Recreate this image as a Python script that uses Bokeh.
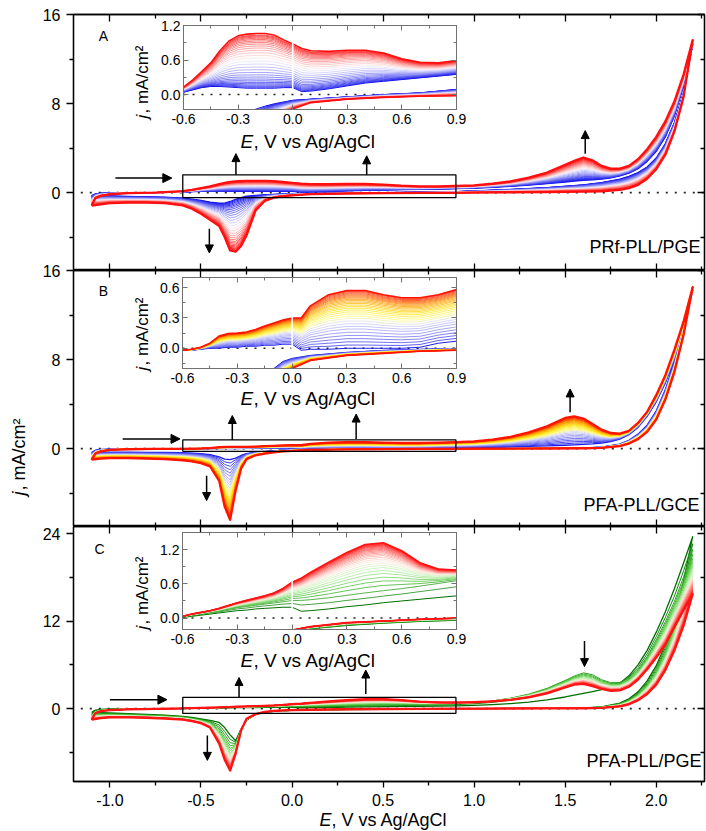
import numpy as np
from math import pi
from bokeh.plotting import figure
from bokeh.models import (GridBox, LinearAxis, FixedTicker, PrintfTickFormatter,
                          CustomJSTickFormatter, Label, Arrow, NormalHead)
from bokeh.embed import file_html
from bokeh.resources import INLINE

FONT = "Liberation Sans"

# ---------------- data ----------------
# potential grid of the anodic (forward) and cathodic (reverse) sweeps, V
FWD_E = [-1.1, -1.08, -1.05, -1.0, -0.9, -0.75, -0.6, -0.55, -0.5, -0.45, -0.4, -0.35,
         -0.3, -0.25, -0.2, -0.15, -0.1, -0.05, 0.0, 0.05, 0.1, 0.2, 0.3, 0.4, 0.5, 0.6,
         0.7, 0.8, 0.9, 1.0, 1.1, 1.2, 1.3, 1.4, 1.5, 1.55, 1.6, 1.65, 1.7, 1.75, 1.8,
         1.85, 1.9, 1.95, 2.0, 2.05, 2.1, 2.15, 2.2]
REV_E = [2.2, 2.15, 2.1, 2.05, 2.0, 1.95, 1.9, 1.85, 1.8, 1.7, 1.6, 1.4, 1.2, 1.0, 0.9,
         0.7, 0.5, 0.3, 0.1, 0.0, -0.05, -0.1, -0.15, -0.2, -0.25, -0.28, -0.31, -0.34,
         -0.37, -0.4, -0.45, -0.5, -0.55, -0.6, -0.7, -0.8, -0.9, -1.0, -1.05, -1.1]

# Panel A  PRf-PLL/PGE  (mA/cm2)
A_FWD_FIRST = [-0.27, -0.12, -0.06, -0.03, -0.01, 0.0, 0.04, 0.08, 0.12, 0.14, 0.14, 0.13,
               0.12, 0.11, 0.11, 0.11, 0.11, 0.12, 0.12, 0.05, 0.06, 0.1, 0.15, 0.2, 0.23,
               0.26, 0.29, 0.32, 0.35, 0.4, 0.48, 0.57, 0.68, 0.8, 0.95, 1.03, 1.1, 1.15,
               1.22, 1.32, 1.5, 1.75, 2.15, 2.8, 3.7, 5.0, 6.9, 9.6, 13.3]
A_FWD_LAST = [-1.17, -0.5, -0.3, -0.15, -0.05, 0.0, 0.13, 0.25, 0.4, 0.55, 0.76, 0.93,
              1.02, 1.05, 1.06, 1.06, 1.03, 0.95, 0.88, 0.8, 0.76, 0.75, 0.77, 0.77, 0.72,
              0.62, 0.56, 0.55, 0.59, 0.65, 0.8, 1.0, 1.35, 1.8, 2.5, 2.85, 3.15, 2.9, 2.4,
              2.15, 2.15, 2.4, 3.0, 3.9, 5.0, 6.4, 8.2, 10.6, 13.7]
A_REV_FIRST = [13.3, 9.0, 6.3, 4.4, 3.1, 2.3, 1.8, 1.45, 1.2, 0.9, 0.7, 0.45, 0.28, 0.15,
               0.09, 0.03, 0.0, -0.04, -0.08, -0.1, -0.13, -0.16, -0.2, -0.25, -0.32,
               -0.45, -0.6, -0.8, -0.95, -0.95, -0.85, -0.7, -0.6, -0.5, -0.42, -0.38,
               -0.35, -0.3, -0.28, -0.27]
A_REV_LAST = [13.7, 8.6, 5.5, 3.4, 2.1, 1.25, 0.7, 0.4, 0.25, 0.12, 0.08, 0.05, 0.03, 0.0,
              -0.02, -0.03, -0.05, -0.08, -0.14, -0.25, -0.33, -0.45, -0.75, -1.6, -3.85,
              -4.8, -5.3, -5.2, -4.0, -3.0, -2.45, -1.9, -1.45, -1.15, -0.95, -0.9, -0.9,
              -0.95, -1.05, -1.17]
A_CYCLE_PEAK = [-1.0, -1.08, -1.16, -1.25, -1.35, -1.46, -1.58, -1.72, -1.88, -2.05,
                -2.24, -2.45, -2.67, -2.9, -3.13, -3.36, -3.58, -3.79, -3.98, -4.16,
                -4.32, -4.47, -4.6, -4.72, -4.83, -4.93, -5.02, -5.1, -5.17, -5.3]

# Panel B  PFA-PLL/GCE
B_FWD_FIRST = [-0.33, -0.15, -0.08, -0.05, -0.03, -0.02, -0.02, -0.02, -0.01, 0.0, 0.0,
               0.01, 0.01, 0.02, 0.02, 0.03, 0.03, 0.04, 0.04, -0.02, -0.01, -0.01, 0.0,
               0.0, 0.0, 0.0, 0.01, 0.05, 0.07, 0.09, 0.12, 0.15, 0.19, 0.24, 0.3, 0.34,
               0.38, 0.43, 0.5, 0.62, 0.85, 1.25, 1.9, 2.9, 4.2, 5.9, 8.0, 10.8, 14.2]
B_FWD_LAST = [-1.0, -0.45, -0.25, -0.12, -0.06, -0.03, -0.02, -0.01, 0.01, 0.05, 0.12,
              0.145, 0.15, 0.16, 0.185, 0.22, 0.25, 0.28, 0.3, 0.3, 0.42, 0.53, 0.57, 0.57,
              0.53, 0.5, 0.5, 0.53, 0.58, 0.65, 0.8, 1.05, 1.45, 2.0, 2.75, 2.9, 2.7, 2.2,
              1.7, 1.4, 1.35, 1.6, 2.3, 3.3, 4.8, 6.6, 8.9, 11.4, 14.5]
B_REV_FIRST = [14.2, 10.9, 7.8, 5.3, 3.4, 2.1, 1.3, 0.75, 0.4, 0.14, 0.06, 0.03, 0.02,
               0.01, 0.0, -0.01, -0.02, -0.04, -0.07, -0.1, -0.13, -0.2, -0.26, -0.32,
               -0.45, -0.62, -0.85, -1.0, -0.95, -0.75, -0.55, -0.45, -0.4, -0.37, -0.35,
               -0.34, -0.33, -0.33, -0.33, -0.33]
B_REV_LAST = [14.5, 10.2, 6.9, 4.4, 2.6, 1.5, 0.85, 0.45, 0.22, 0.07, 0.03, 0.01, 0.0,
              -0.01, -0.02, -0.03, -0.05, -0.07, -0.12, -0.2, -0.25, -0.33, -0.45, -0.6,
              -0.95, -1.8, -3.8, -6.4, -5.2, -2.9, -1.6, -1.3, -1.15, -1.05, -0.95, -0.9,
              -0.85, -0.85, -0.9, -1.0]
B_CYCLE_PEAK = [-1.0, -1.3, -1.6, -1.9, -2.2, -2.5, -2.8, -3.05, -3.3, -3.55, -3.8, -4.0,
                -4.2, -4.4, -4.58, -4.75, -4.9, -5.05, -5.2, -5.33, -5.46, -5.58, -5.7,
                -5.8, -5.9, -6.0, -6.1, -6.2, -6.3, -6.4]

# Panel C  PFA-PLL/PGE
C_FWD_FIRST = [-0.5, -0.2, -0.1, -0.05, -0.02, 0.0, 0.01, 0.03, 0.05, 0.07, 0.09, 0.11,
               0.13, 0.14, 0.16, 0.17, 0.18, 0.19, 0.19, 0.12, 0.13, 0.16, 0.2, 0.23, 0.27,
               0.3, 0.33, 0.36, 0.39, 0.45, 0.55, 0.7, 0.9, 1.2, 1.6, 1.85, 2.1, 2.35, 2.6,
               2.95, 3.5, 4.5, 6.0, 8.0, 10.5, 13.3, 16.5, 20.0, 23.6]
C_FWD_MID = [-0.8, -0.35, -0.2, -0.1, -0.05, -0.01, 0.02, 0.05, 0.07, 0.1, 0.12, 0.15,
             0.18, 0.2, 0.22, 0.24, 0.26, 0.28, 0.3, 0.3, 0.31, 0.34, 0.38, 0.42, 0.46, 0.5,
             0.55, 0.6, 0.65, 0.8, 1.05, 1.45, 2.0, 2.8, 3.9, 4.5, 4.95, 4.7, 4.0, 3.6,
             3.6, 4.2, 5.4, 7.2, 9.5, 12.0, 14.8, 18.2, 22.0]
C_FWD_LAST = [-1.5, -0.6, -0.35, -0.2, -0.1, -0.04, 0.03, 0.07, 0.1, 0.13, 0.17, 0.22,
              0.27, 0.31, 0.35, 0.39, 0.44, 0.52, 0.63, 0.7, 0.8, 0.98, 1.15, 1.29, 1.32,
              1.18, 0.97, 0.86, 0.84, 0.88, 1.0, 1.2, 1.55, 2.1, 2.9, 3.3, 3.4, 3.1, 2.7,
              2.45, 2.5, 3.0, 4.0, 5.4, 7.0, 8.8, 11.2, 13.5, 15.7]
C_REV_FIRST = [23.6, 17.5, 12.6, 8.8, 5.9, 3.8, 2.3, 1.35, 0.75, 0.25, 0.1, 0.05, 0.03,
               0.0, -0.04, -0.06, -0.09, -0.13, -0.19, -0.25, -0.3, -0.38, -0.5, -0.8,
               -1.6, -2.8, -4.4, -3.6, -2.6, -1.9, -1.6, -1.4, -1.2, -1.05, -0.9, -0.8,
               -0.7, -0.6, -0.55, -0.5]
C_REV_LAST = [15.7, 11.4, 8.0, 5.3, 3.3, 2.0, 1.15, 0.6, 0.3, 0.1, 0.05, 0.03, 0.02, 0.01,
              0.0, -0.02, -0.05, -0.08, -0.15, -0.21, -0.25, -0.32, -0.45, -0.75, -1.4,
              -3.0, -6.2, -8.5, -7.0, -4.8, -2.6, -2.0, -1.7, -1.5, -1.35, -1.25, -1.2,
              -1.2, -1.3, -1.5]
C_CYCLE_PEAK = [-4.4, -4.9, -5.3, -5.65, -5.95, -6.2, -6.45, -6.65, -6.85, -7.0, -7.15,
                -7.3, -7.42, -7.54, -7.65, -7.75, -7.84, -7.92, -8.0, -8.07, -8.13,
                -8.19, -8.25, -8.3, -8.34, -8.38, -8.42, -8.45, -8.48, -8.5]

# tick values
MAIN_X_TICKS = [-1.0, -0.5, 0.0, 0.5, 1.0, 1.5, 2.0]
MAIN_X_MINOR = [-0.75, -0.25, 0.25, 0.75, 1.25, 1.75, 2.25]
AB_Y_TICKS = [0, 8, 16]
AB_Y_MINOR = [-4, 4, 12]
C_Y_TICKS = [0, 12, 24]
C_Y_MINOR = [-6, 6, 18]
INSET_X_TICKS = [-0.6, -0.3, 0.0, 0.3, 0.6, 0.9]
INSET_X_MINOR = [-0.45, -0.15, 0.15, 0.45, 0.75]
IA_Y_TICKS, IA_Y_MINOR = [0.0, 0.6, 1.2], [0.3, 0.9]
IB_Y_TICKS, IB_Y_MINOR = [0.0, 0.3, 0.6], [-0.15, 0.15, 0.45]
IC_Y_TICKS, IC_Y_MINOR = [0.0, 0.6, 1.2], [0.3, 0.9]

# annotation positions (data units)
A_BOX = [-0.6, 0.9, -0.45, 1.6]
B_BOX = [-0.6, 0.9, -0.25, 0.78]
C_BOX = [-0.6, 0.9, -0.65, 1.55]
A_ARROWS = [(-0.97, 1.3, -0.66, 1.3), (-0.308, 1.6, -0.308, 3.5), (0.41, 1.6, 0.41, 3.3),
            (-0.454, -3.24, -0.454, -5.42), (1.61, 3.48, 1.61, 5.57)]
B_ARROWS = [(-0.93, 0.87, -0.615, 0.87), (-0.328, 0.78, -0.328, 2.97), (0.352, 0.87, 0.352, 3.1),
            (-0.469, -2.43, -0.469, -4.67), (1.527, 3.27, 1.527, 5.36)]
C_ARROWS = [(-1.0, 1.23, -0.687, 1.23), (-0.291, 1.55, -0.291, 4.27), (0.405, 2.0, 0.405, 5.3),
            (-0.465, -3.68, -0.465, -7.1), (1.606, 9.27, 1.606, 5.77)]
ZERO_MAIN = [-1.16, 2.265]
ZERO_INSET = [-0.6, 0.9]
A_GAP = [0.04, 0.9]
B_GAP = [-0.04, 0.32]
C_GAP = [0.12, 0.66]

# ---------------- geometry (page px) ----------------
MX = (-1.2, 2.265)
GEOM_A = (MX, (73, 704), (-7, 16), (14, 270))
GEOM_B = (MX, (73, 704), (-7, 16), (270, 526))
GEOM_C = (MX, (73, 704), (-10, 25), (526, 781))
GEOM_IA = ((-0.6, 0.9), (183, 456), (-0.26, 1.2), (25, 109))
GEOM_IB = ((-0.6, 0.9), (182, 456), (-0.2, 0.7), (277, 368))
GEOM_IC = ((-0.6, 0.9), (182, 456), (-0.2, 1.5), (532, 629))
INSET_TOP = 10

A_STOPS = [(0.0, (20, 20, 235)), (0.5, (230, 230, 252)), (0.56, (255, 228, 228)), (1.0, (255, 15, 15))]
B_STOPS = [(0.0, (30, 30, 235)), (0.45, (215, 215, 250)), (0.55, (255, 252, 130)),
           (0.7, (255, 225, 20)), (0.85, (255, 150, 0)), (1.0, (255, 20, 0))]
C_STOPS = [(0.0, (0, 110, 0)), (0.35, (70, 190, 50)), (0.6, (200, 245, 185)),
           (0.72, (255, 230, 220)), (1.0, (255, 20, 20))]


def cmap(stops, f):
    for i in range(len(stops) - 1):
        t0, c0 = stops[i]
        t1, c1 = stops[i + 1]
        if f <= t1 or i == len(stops) - 2:
            u = min(max((f - t0) / (t1 - t0), 0.0), 1.0)
            return "#%02x%02x%02x" % tuple(int(round(c0[j] + (c1[j] - c0[j]) * u)) for j in range(3))


def blend(ts, arrays, t):
    arrs = [np.asarray(a, dtype=float) for a in arrays]
    for i in range(len(ts) - 1):
        if t <= ts[i + 1] or i == len(ts) - 2:
            u = (t - ts[i]) / (ts[i + 1] - ts[i])
            return arrs[i] * (1 - u) + arrs[i + 1] * u


def cycles(peaks, fwd_ts, fwd_arrs, rev_ts, rev_arrs, stops):
    p0, p1 = peaks[0], peaks[-1]
    xs, ys, cols = [], [], []
    for pk in peaks:
        t = (pk - p0) / (p1 - p0)
        f = blend(fwd_ts, fwd_arrs, t)
        r = blend(rev_ts, rev_arrs, t)
        xs.append(list(FWD_E) + list(REV_E))
        ys.append(list(f) + list(r))
        cols.append(cmap(stops, t))
    return xs, ys, cols


def to_data(geom, px, py):
    xr, fx, yr, fy = geom
    x = xr[0] + (px - fx[0]) * (xr[1] - xr[0]) / (fx[1] - fx[0])
    y = yr[1] - (py - fy[0]) * (yr[1] - yr[0]) / (fy[1] - fy[0])
    return x, y


def text(p, geom, px, py, s, size, align="left", angle=0.0, style="normal"):
    x, y = to_data(geom, px, py)
    p.add_layout(Label(x=x, y=y, text=s, text_font=FONT, text_font_size=f"{size}px",
                       text_align=align, text_baseline="middle", angle=angle,
                       text_font_style=style, text_color="black"))


def no_align(p):
    try:
        p.frame_align = False
    except Exception:
        pass


def axis(p, side, ticks, minor, fmt, tin, tout, mtin, mtout, labels, size, color, lw, standoff=5):
    if labels:
        formatter = PrintfTickFormatter(format=fmt)
    else:
        formatter = CustomJSTickFormatter(code="return '';")
    ax = LinearAxis(ticker=FixedTicker(ticks=ticks, minor_ticks=minor), formatter=formatter)
    ax.major_tick_in, ax.major_tick_out = tin, tout
    ax.minor_tick_in, ax.minor_tick_out = mtin, mtout
    for a in ("axis_line", "major_tick_line", "minor_tick_line"):
        setattr(ax, a + "_color", color)
        setattr(ax, a + "_width", lw)
    if labels:
        ax.major_label_text_font = FONT
        ax.major_label_text_font_size = size
        ax.major_label_text_color = "black"
        ax.major_label_standoff = standoff
    else:
        ax.major_label_text_font_size = "1px"
        ax.major_label_standoff = 0
    p.add_layout(ax, side)


def main_panel(geom, top_border, bottom_border, yt, ym, last):
    xr, fx, yr, fy = geom
    h = top_border + (fy[1] - fy[0]) + bottom_border
    p = figure(width=706, height=h, x_range=xr, y_range=yr, output_backend="svg",
               toolbar_location=None, x_axis_location=None, y_axis_location=None,
               min_border_left=73, min_border_right=2, min_border_top=top_border,
               min_border_bottom=bottom_border)
    no_align(p)
    p.xgrid.visible = False
    p.ygrid.visible = False
    p.outline_line_color = "black"
    p.outline_line_width = 1.3
    p.background_fill_color = "white"
    p.border_fill_alpha = 0
    axis(p, "left", yt, ym, "%d", 0, 7, 0, 4, True, "16px", "black", 1.3, 6)
    axis(p, "right", yt, ym, "%d", 7, 0, 4, 0, False, None, "black", 1.3)
    axis(p, "above", MAIN_X_TICKS, MAIN_X_MINOR, "%.1f", 7, 0, 4, 0, False, None, "black", 1.3)
    if last:
        axis(p, "below", MAIN_X_TICKS, MAIN_X_MINOR, "%.1f", 0, 6, 0, 4, True, "16px", "black", 1.3, 6)
    else:
        axis(p, "below", MAIN_X_TICKS, MAIN_X_MINOR, "%.1f", 7, 0, 4, 0, False, None, "black", 1.3)
    p.margin = (fy[0] - top_border, 0, 0, 0)
    return p


def inset_panel(geom, yt, ym):
    xr, fx, yr, fy = geom
    w = 60 + (fx[1] - fx[0]) + 15
    h = INSET_TOP + (fy[1] - fy[0]) + 45
    p = figure(width=w, height=h, x_range=xr, y_range=yr, output_backend="svg",
               toolbar_location=None, x_axis_location=None, y_axis_location=None,
               min_border_left=60, min_border_right=15, min_border_top=INSET_TOP,
               min_border_bottom=45)
    no_align(p)
    p.xgrid.visible = False
    p.ygrid.visible = False
    p.outline_line_color = "#707070"
    p.outline_line_width = 1
    p.background_fill_color = "white"
    p.border_fill_alpha = 0
    gc = "#707070"
    axis(p, "left", yt, ym, "%.1f", 5, 0, 3, 0, True, "14px", gc, 1, 3)
    axis(p, "right", yt, ym, "%.1f", 5, 0, 3, 0, False, None, gc, 1)
    axis(p, "below", INSET_X_TICKS, INSET_X_MINOR, "%.1f", 5, 0, 3, 0, True, "14px", gc, 1, 4)
    axis(p, "above", INSET_X_TICKS, INSET_X_MINOR, "%.1f", 5, 0, 3, 0, False, None, gc, 1)
    p.margin = (fy[0] - INSET_TOP, 0, 0, fx[0] - 60)
    return p


def widths(n, first, mid, last):
    return [first] + [mid] * (n - 2) + [last]


def draw(p, pi_, geom, xs, ys, cols, box, arrows, gap, letter, letter_px, name, name_px):
    n = len(xs)
    # main
    p.line(ZERO_MAIN, [0, 0], line_color="#222222", line_width=1.6, line_dash="2 7")
    p.multi_line(xs=xs, ys=ys, line_color=cols, line_width=widths(n, 1.3, 1.0, 2.3),
                 line_join="round")
    p.quad(left=[box[0]], right=[box[1]], bottom=[box[2]], top=[box[3]],
           fill_color=None, line_color="black", line_width=1.3)
    for k, (x0, y0, x1, y1) in enumerate(arrows):
        p.add_layout(Arrow(end=NormalHead(size=9 if k == 0 else 8, fill_color="black",
                                          line_color="black", line_width=1),
                           x_start=x0, y_start=y0, x_end=x1, y_end=y1,
                           line_color="black", line_width=1.5))
    text(p, geom, letter_px[0], letter_px[1], letter, 14, align="center")
    text(p, geom, name_px[0], name_px[1], name, 18, align="right")
    # inset
    pi_.line(ZERO_INSET, [0, 0], line_color="#222222", line_width=1.5, line_dash="2 7")
    pi_.multi_line(xs=xs, ys=ys, line_color=cols, line_width=widths(n, 1.0, 0.8, 1.6),
                   line_join="round")
    pi_.segment(x0=[0.0], y0=[gap[0]], x1=[0.0], y1=[gap[1]], line_color="white", line_width=1.6)


pA = main_panel(GEOM_A, 14, 0, AB_Y_TICKS, AB_Y_MINOR, False)
pA.border_fill_color = "white"
pA.border_fill_alpha = 1
pB = main_panel(GEOM_B, 12, 0, AB_Y_TICKS, AB_Y_MINOR, False)
pC = main_panel(GEOM_C, 12, 50, C_Y_TICKS, C_Y_MINOR, True)
iA = inset_panel(GEOM_IA, IA_Y_TICKS, IA_Y_MINOR)
iB = inset_panel(GEOM_IB, IB_Y_TICKS, IB_Y_MINOR)
iC = inset_panel(GEOM_IC, IC_Y_TICKS, IC_Y_MINOR)

xa, ya, ca = cycles(A_CYCLE_PEAK, [0, 1], [A_FWD_FIRST, A_FWD_LAST], [0, 1],
                    [A_REV_FIRST, A_REV_LAST], A_STOPS)
xb, yb, cb = cycles(B_CYCLE_PEAK, [0, 1], [B_FWD_FIRST, B_FWD_LAST], [0, 1],
                    [B_REV_FIRST, B_REV_LAST], B_STOPS)
xc, yc, cc = cycles(C_CYCLE_PEAK, [0, 0.2, 1], [C_FWD_FIRST, C_FWD_MID, C_FWD_LAST], [0, 1],
                    [C_REV_FIRST, C_REV_LAST], C_STOPS)

draw(pA, iA, GEOM_A, xa, ya, ca, A_BOX, A_ARROWS, A_GAP, "A", (103, 35),
     "PRf-PLL/PGE", (700, 246))
draw(pB, iB, GEOM_B, xb, yb, cb, B_BOX, B_ARROWS, B_GAP, "B", (103, 290),
     "PFA-PLL/GCE", (699, 504))
draw(pC, iC, GEOM_C, xc, yc, cc, C_BOX, C_ARROWS, C_GAP, "C", (99, 548),
     "PFA-PLL/PGE", (701, 760))

# transparent overlay (page pixel coordinates) that carries the axis titles
ov = figure(width=706, height=831, x_range=(0, 706), y_range=(831, 0), output_backend="svg",
            toolbar_location=None, x_axis_location=None, y_axis_location=None,
            min_border=0, min_border_left=0, min_border_right=0, min_border_top=0,
            min_border_bottom=0)
no_align(ov)
ov.xgrid.visible = False
ov.ygrid.visible = False
ov.outline_line_color = None
ov.background_fill_alpha = 0
ov.border_fill_alpha = 0


def otext(px, py, s, size, angle=0.0, style="normal"):
    ov.add_layout(Label(x=px, y=py, text=s, text_font=FONT, text_font_size=f"{size}px",
                        text_align="left", text_baseline="middle", angle=angle,
                        text_font_style=style, text_color="black"))


# main titles
otext(18, 495, "j", 18, angle=pi / 2, style="italic")
otext(18, 490, ", mA/cm\u00b2", 18, angle=pi / 2)
otext(319, 819, "E", 18, style="italic")
otext(331, 819, ", V vs Ag/AgCl", 18)
# inset titles
for ty, jb in ((141, 118), (398, 370), (660, 629)):
    otext(240, ty, "E", 19, style="italic")
    otext(253, ty, ", V vs Ag/AgCl", 19)
    otext(142, jb, "j", 17, angle=pi / 2, style="italic")
    otext(142, jb - 5, ", mA/cm\u00b2", 17, angle=pi / 2)

grid = GridBox(children=[(pA, 0, 0), (pB, 0, 0), (pC, 0, 0), (iA, 0, 0), (iB, 0, 0),
                         (iC, 0, 0), (ov, 0, 0)])

open("out.html", "w").write(file_html(grid, INLINE))
